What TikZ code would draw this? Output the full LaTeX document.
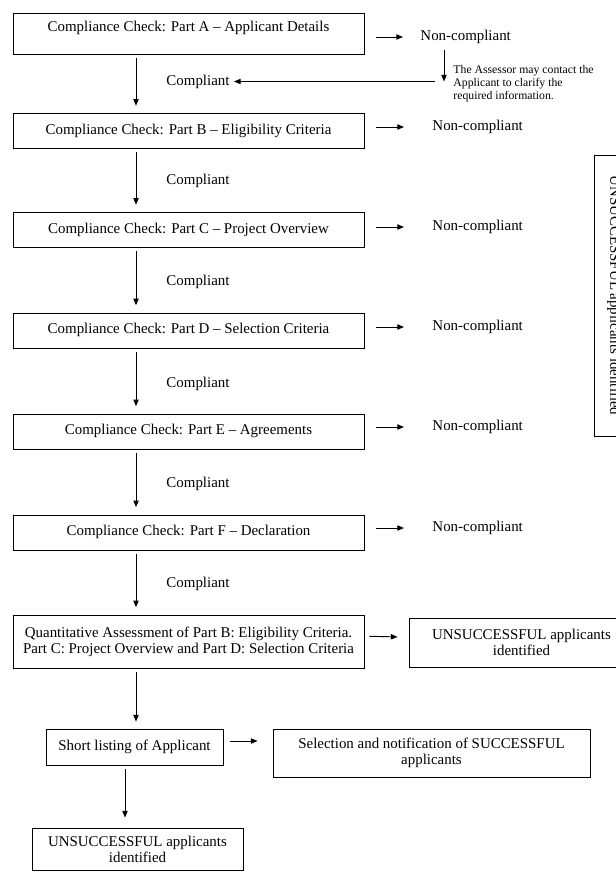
\documentclass[tikz,border=0pt]{standalone}
\usepackage{fontspec}
\setmainfont{Liberation Serif}
\usetikzlibrary{arrows.meta}

\begin{document}
\begin{tikzpicture}[x=0.75pt, y=-0.75pt, >={Triangle[length=5pt,width=4pt]}, line width=0.7pt,
        box/.style={draw, align=center, inner sep=0pt, font=\fontsize{11.2}{12}\selectfont},
        chk/.style={box, minimum width=263.25pt, minimum height=26.25pt, text height=8pt, text depth=3pt},
        lbl/.style={inner sep=0pt, font=\fontsize{11.2}{12}\selectfont},
        note/.style={align=left, inner sep=0pt, font=\fontsize{8.8}{9.75}\selectfont}]
        \useasboundingbox (0,0) rectangle (616,872);
        \coordinate (spine) at (136,0);
        \coordinate (drop) at (125,0);

        % Part A, with the way back to compliant
        \node[chk, minimum height=30.75pt, text depth=11pt] (chkA) at (188.5,33.5) {Compliance Check: Part A – Applicant Details};
        \node[lbl, anchor=west] (ncA) at (420,37) {Non-compliant};
        \draw[->, shorten <=9pt, shorten >=12.75pt] (chkA.east |- ncA) -- (ncA.west);
        \coordinate (back) at (444,81.5);
        \draw[->, shorten <=4pt] (ncA.south -| back) -- (back);
        \node[note, anchor=west] (note) at (453,84) {The Assessor may contact the\\Applicant to clarify the\\required information.};

        % Parts B to F
        \foreach \p/\yy/\yn/\txt in {B/131/127/Eligibility Criteria, C/230/227/Project Overview,
                D/330.5/327/Selection Criteria, E/431.5/427/Agreements, F/532.5/528/Declaration} {
            \node[chk] (chk\p) at (188.5,\yy) {Compliance Check: Part \p{} – \txt};
            \node[lbl, anchor=west] (nc\p) at (432,\yn) {Non-compliant};
            \draw[->, shorten <=9pt, shorten >=21pt] (chk\p.east |- nc\p) -- (nc\p.west);
        }

        % Quantitative assessment
        \node[box, minimum width=263.25pt, minimum height=39.75pt] (chkQ) at (188.5,641.5) {Quantitative Assessment of Part B: Eligibility Criteria.\\Part C: Project Overview and Part D: Selection Criteria};
        \node[box, minimum width=168.75pt, minimum height=36.75pt] (failQ) at (521.5,642.5) {UNSUCCESSFUL applicants\\identified};
        \draw[->, shorten <=3.75pt, shorten >=8.25pt] ([yshift=4pt]chkQ.east) -- ([yshift=4pt]failQ.west);

        % Compliant steps down the left
        \foreach \p/\yy in {B/81.5, C/181, D/282, E/384, F/484, Q/584}
            \node[lbl, anchor=west] (ok\p) at (166,\yy) {Compliant};
        \foreach \a/\b in {A/B, B/C, C/D, D/E, E/F, F/Q}
            \draw[->, shorten <=2.5pt, shorten >=5.5pt] (chk\a.south -| spine) -- (chk\b.north -| spine);
        \draw[->, shorten <=6.75pt, shorten >=3pt] (back) -- (okB);

        % Side box, cut by the page edge
        \node[box, rotate=-90, minimum width=210.75pt, minimum height=30pt] (failAll) at (614,295.5) {UNSUCCESSFUL applicants identified};

        % Short listing
        \node[box, minimum width=132.75pt, minimum height=27pt] (shortlist) at (134.5,747) {Short listing of Applicant};
        \node[box, minimum width=237.75pt, minimum height=36pt] (select) at (431.5,753) {Selection and notification of SUCCESSFUL\\applicants};
        \node[box, minimum width=158.25pt, minimum height=31.5pt] (failEnd) at (137.5,849) {UNSUCCESSFUL applicants\\identified};
        \draw[->, shorten <=3pt, shorten >=5.25pt] (chkQ.south -| spine) -- (shortlist.north -| spine);
        \coordinate (slout) at ([yshift=4.5pt]shortlist.east);
        \draw[->, shorten <=5.25pt, shorten >=11.25pt] (slout) -- (slout -| select.west);
        \draw[->, shorten <=3pt, shorten >=7.5pt] (shortlist.south -| drop) -- (failEnd.north -| drop);

\end{tikzpicture}
\end{document}
